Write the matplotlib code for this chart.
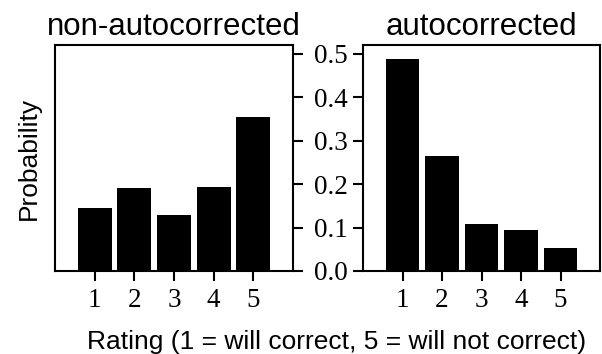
import matplotlib
matplotlib.use('Agg')
import matplotlib.pyplot as plt

ratings = [1, 2, 3, 4, 5]
non_autocorrected = [0.145, 0.190, 0.129, 0.193, 0.354]
autocorrected = [0.488, 0.264, 0.109, 0.094, 0.054]
yticks = [0.0, 0.1, 0.2, 0.3, 0.4, 0.5]
titles = ["non-autocorrected", "autocorrected"]

W, H = 602, 354
fig = plt.figure(figsize=(W / 100, H / 100), dpi=100)
ax1 = fig.add_axes([55 / W, (H - 271) / H, 238 / W, 226 / H])
ax2 = fig.add_axes([363 / W, (H - 271) / H, 237 / W, 226 / H], sharey=ax1)

serif = "Liberation Serif"
sans = "Liberation Sans"

for ax, vals, title in [(ax1, non_autocorrected, titles[0]), (ax2, autocorrected, titles[1])]:
    ax.bar(ratings, vals, width=0.86, color="black")
    ax.set_xlim(0, 6)
    ax.set_xticks(ratings)
    ax.set_xticklabels([str(r) for r in ratings], family=serif, fontsize=19.5)
    ax.set_title(title, family=sans, fontsize=22.5, pad=7)
    for s in ax.spines.values():
        s.set_linewidth(1.5)
    ax.tick_params(axis="both", direction="out", length=7, width=1.5, pad=5)

ax1.set_ylim(0, 0.52)
ax1.set_yticks(yticks)
ax1.yaxis.tick_right()
ax1.tick_params(axis="y", labelright=False, labelleft=False)
ax2.yaxis.tick_left()
ax2.tick_params(axis="y", labelleft=True, pad=4)
ax2.set_yticklabels([f"{t:.1f}" for t in yticks], family=serif, fontsize=19.5)

ax1.set_ylabel("Probability", family=sans, fontsize=19, labelpad=10)
fig.text(337 / W, 1 - 342 / H, "Rating (1 = will correct, 5 = will not correct)",
         family=sans, fontsize=19, ha="center", va="center")

fig.savefig("out.png", dpi=100)
